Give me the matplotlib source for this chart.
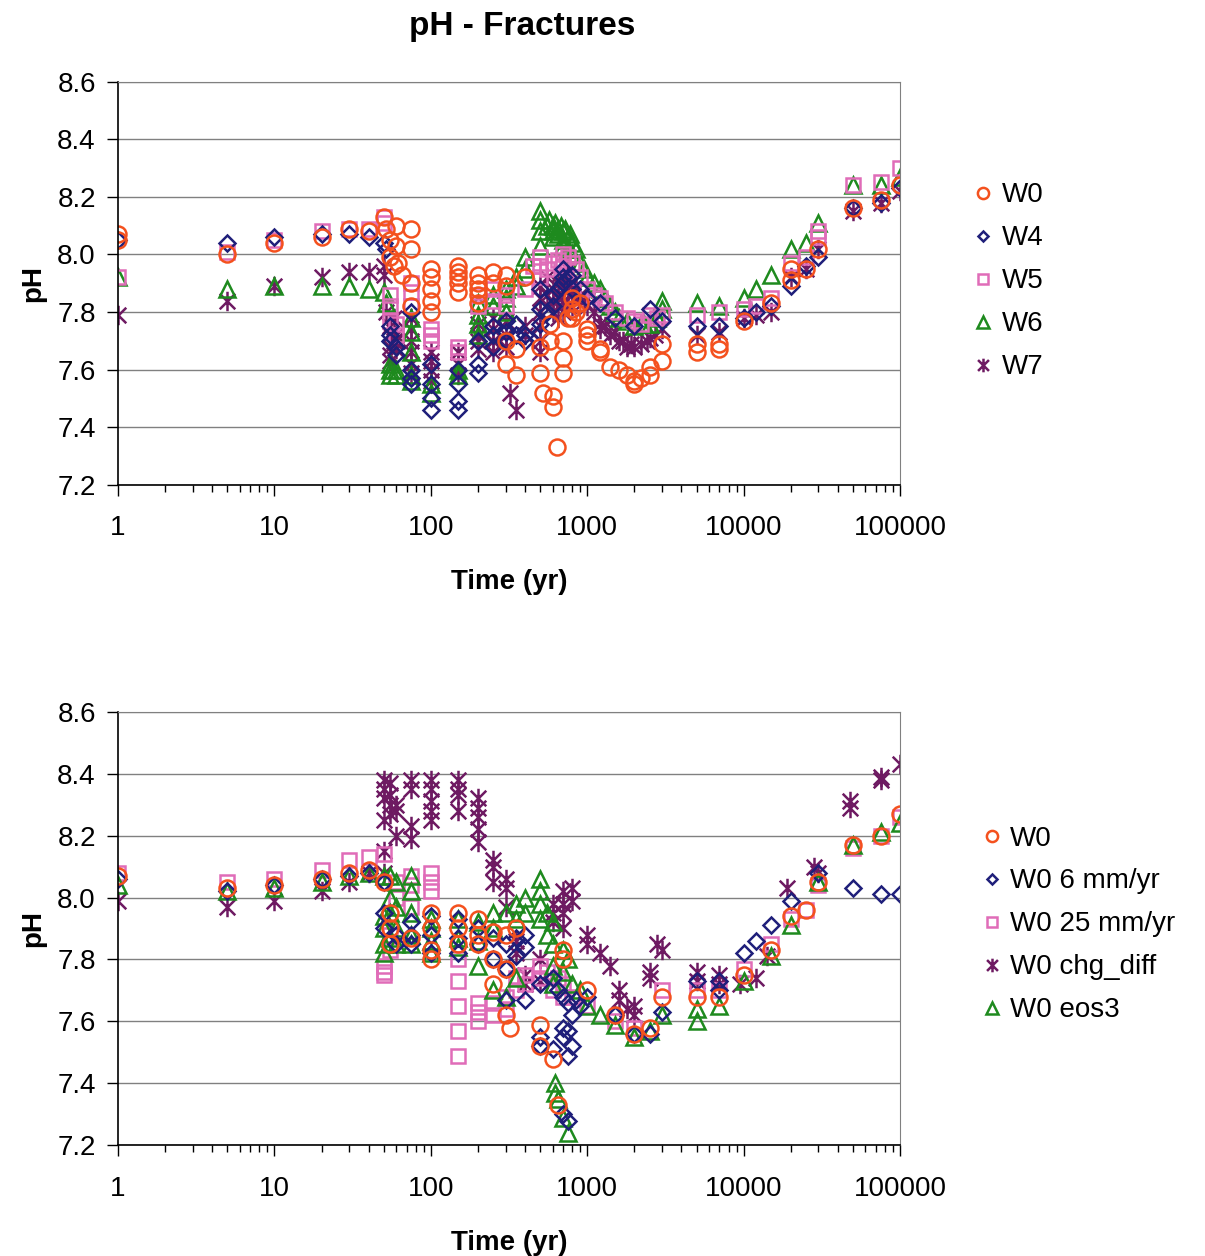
import numpy as np
import matplotlib
matplotlib.use("Agg")
from matplotlib import pyplot as plt
from matplotlib.path import Path
from matplotlib.ticker import LogLocator, FixedLocator, NullFormatter

plt.rcParams['font.family'] = ['Liberation Sans', 'DejaVu Sans']

# ---- data: (time in yr, pH) ----
# top panel: pH - Fractures, infiltration scenarios
top_w0 = [(1, 8.07), (1, 8.05), (5, 8.00), (10, 8.04), (20, 8.06), (30, 8.09), (40, 8.08),
          (50, 8.13), (52, 8.09), (55, 8.05), (55, 7.99), (58, 7.96), (60, 8.10), (60, 8.03),
          (62, 7.97), (65, 7.93), (75, 8.09), (75, 8.02), (75, 7.90), (75, 7.82),
          (100, 7.95), (100, 7.92), (100, 7.88), (100, 7.84), (100, 7.80),
          (150, 7.96), (150, 7.94), (150, 7.92), (150, 7.90), (150, 7.87),
          (200, 7.93), (200, 7.90), (200, 7.88), (200, 7.86), (200, 7.83),
          (250, 7.94), (250, 7.90), (300, 7.93), (300, 7.89), (300, 7.70), (300, 7.62),
          (350, 7.67), (350, 7.58), (400, 7.92), (500, 7.68), (500, 7.59), (520, 7.52),
          (580, 7.76), (580, 7.70), (600, 7.51), (600, 7.47), (640, 7.33),
          (700, 7.70), (700, 7.64), (700, 7.59), (750, 7.78), (800, 7.85), (800, 7.81),
          (800, 7.78), (850, 7.80), (900, 7.83), (1000, 7.74), (1000, 7.72), (1000, 7.70),
          (1200, 7.67), (1200, 7.66), (1400, 7.61), (1600, 7.60), (1800, 7.58),
          (2000, 7.55), (2000, 7.56), (2200, 7.57), (2500, 7.58), (2500, 7.61),
          (3000, 7.69), (3000, 7.63), (5000, 7.69), (5000, 7.66), (7000, 7.69), (7000, 7.67),
          (10000, 7.77), (15000, 7.83), (20000, 7.91), (20000, 7.95), (25000, 7.95),
          (30000, 8.02), (50000, 8.16), (75000, 8.19), (100000, 8.24)]

top_w4 = [(1, 8.05), (5, 8.04), (10, 8.06), (20, 8.07), (30, 8.07), (40, 8.06), (50, 8.04),
          (52, 8.02), (55, 7.75), (55, 7.72), (55, 7.70), (60, 7.68), (60, 7.65),
          (75, 7.80), (75, 7.60), (75, 7.57), (75, 7.55), (100, 7.62), (100, 7.55),
          (100, 7.50), (100, 7.46), (150, 7.60), (150, 7.55), (150, 7.49), (150, 7.46),
          (200, 7.70), (200, 7.62), (200, 7.59), (250, 7.75), (250, 7.72), (250, 7.68),
          (300, 7.77), (300, 7.73), (300, 7.70), (350, 7.76), (350, 7.72), (400, 7.72),
          (400, 7.70), (500, 7.88), (500, 7.81), (500, 7.76), (500, 7.73), (550, 7.80),
          (600, 7.86), (600, 7.82), (650, 7.88), (700, 7.95), (700, 7.92), (700, 7.90),
          (750, 7.92), (800, 7.93), (800, 7.88), (900, 7.88), (1000, 7.85), (1200, 7.83),
          (1500, 7.78), (2000, 7.75), (2500, 7.81), (3000, 7.77), (5000, 7.75),
          (7000, 7.75), (10000, 7.78), (12000, 7.80), (15000, 7.82), (20000, 7.89),
          (25000, 7.96), (30000, 7.99), (50000, 8.16), (75000, 8.18), (100000, 8.23)]

top_w5 = [(1, 7.92), (5, 8.01), (10, 8.05), (20, 8.08), (30, 8.09), (40, 8.09), (50, 8.13),
          (50, 8.11), (55, 7.86), (55, 7.82), (55, 7.77), (60, 7.76), (60, 7.72),
          (75, 7.90), (75, 7.87), (75, 7.82), (100, 7.74), (100, 7.72), (100, 7.70),
          (150, 7.68), (150, 7.66), (200, 7.86), (200, 7.82), (250, 7.88), (250, 7.84),
          (300, 7.86), (300, 7.82), (400, 7.88), (450, 7.96), (500, 7.99), (500, 7.96),
          (500, 7.92), (550, 7.95), (600, 7.97), (650, 7.98), (700, 8.00), (700, 7.96),
          (750, 7.99), (800, 7.97), (850, 7.95), (900, 7.92), (1000, 7.88), (1100, 7.86),
          (1200, 7.85), (1300, 7.83), (1500, 7.80), (1800, 7.78), (2000, 7.77),
          (2200, 7.76), (2500, 7.79), (2800, 7.78), (3000, 7.79), (5000, 7.79),
          (7000, 7.80), (10000, 7.81), (12000, 7.82), (15000, 7.85), (20000, 7.97),
          (25000, 7.99), (30000, 8.06), (30000, 8.08), (50000, 8.24), (75000, 8.25),
          (100000, 8.30)]

top_w6 = [(1, 7.92), (5, 7.88), (10, 7.89), (20, 7.89), (30, 7.89), (40, 7.88), (50, 7.87),
          (52, 7.83), (55, 7.62), (55, 7.60), (55, 7.58), (60, 7.60), (60, 7.58),
          (75, 7.78), (75, 7.73), (75, 7.66), (75, 7.58), (75, 7.56), (100, 7.55),
          (100, 7.52), (150, 7.60), (150, 7.58), (200, 7.83), (200, 7.79), (200, 7.76),
          (200, 7.72), (250, 7.86), (250, 7.82), (300, 7.88), (300, 7.85), (300, 7.80),
          (350, 7.92), (350, 7.89), (400, 7.99), (400, 7.95), (500, 8.15), (500, 8.12),
          (500, 8.08), (500, 8.03), (550, 8.10), (570, 8.12), (600, 8.10), (600, 8.08),
          (600, 8.06), (620, 8.11), (650, 8.09), (650, 8.07), (680, 8.10), (700, 8.08),
          (700, 8.05), (700, 8.03), (720, 8.09), (750, 8.06), (750, 8.02), (780, 8.07),
          (800, 8.04), (800, 8.00), (850, 8.02), (900, 7.97), (950, 7.95), (1000, 7.92),
          (1100, 7.90), (1200, 7.88), (1300, 7.85), (1400, 7.82), (1500, 7.80),
          (1600, 7.78), (1800, 7.77), (2000, 7.75), (2200, 7.76), (2300, 7.76),
          (2500, 7.76), (2800, 7.78), (3000, 7.84), (3000, 7.81), (5000, 7.83),
          (7000, 7.82), (10000, 7.85), (12000, 7.88), (15000, 7.93), (20000, 8.02),
          (25000, 8.04), (30000, 8.11), (50000, 8.24), (75000, 8.24), (100000, 8.27)]

top_w7 = [(1, 7.79), (5, 7.84), (10, 7.89), (20, 7.92), (30, 7.94), (40, 7.94), (50, 7.96),
          (50, 7.93), (52, 7.80), (55, 7.75), (55, 7.72), (55, 7.68), (55, 7.65),
          (55, 7.63), (58, 7.78), (58, 7.70), (60, 7.72), (60, 7.70), (60, 7.67),
          (75, 7.78), (75, 7.74), (75, 7.70), (75, 7.66), (75, 7.62), (75, 7.59),
          (100, 7.66), (100, 7.63), (100, 7.60), (100, 7.56), (150, 7.66), (150, 7.62),
          (150, 7.58), (200, 7.76), (200, 7.72), (200, 7.70), (200, 7.67), (250, 7.78),
          (250, 7.74), (250, 7.70), (250, 7.66), (300, 7.77), (300, 7.72), (300, 7.68),
          (320, 7.52), (350, 7.46), (400, 7.75), (400, 7.72), (500, 7.89), (500, 7.85),
          (500, 7.80), (500, 7.75), (500, 7.70), (500, 7.66), (550, 7.92), (550, 7.86),
          (600, 7.88), (600, 7.84), (600, 7.80), (650, 7.90), (650, 7.85), (650, 7.78),
          (700, 7.92), (700, 7.88), (700, 7.84), (700, 7.80), (750, 7.95), (750, 7.88),
          (750, 7.82), (800, 7.90), (800, 7.86), (800, 7.82), (850, 7.88), (900, 7.86),
          (950, 7.84), (1000, 7.85), (1000, 7.82), (1100, 7.80), (1200, 7.76),
          (1200, 7.74), (1300, 7.75), (1400, 7.72), (1500, 7.73), (1600, 7.70),
          (1700, 7.70), (1800, 7.68), (1900, 7.69), (2000, 7.68), (2200, 7.69),
          (2400, 7.70), (2500, 7.71), (2700, 7.72), (3000, 7.74), (5000, 7.72),
          (7000, 7.73), (10000, 7.78), (12000, 7.79), (15000, 7.80), (20000, 7.92),
          (25000, 7.95), (30000, 8.02), (50000, 8.15), (75000, 8.18), (100000, 8.22)]

# bottom panel: W0 sensitivity cases
bot_w0 = [(1, 8.07), (5, 8.03), (10, 8.04), (20, 8.06), (30, 8.08), (40, 8.09), (50, 8.05),
          (55, 7.95), (55, 7.90), (55, 7.85), (75, 7.87), (100, 7.95), (100, 7.90),
          (100, 7.83), (100, 7.80), (150, 7.95), (150, 7.90), (150, 7.85), (200, 7.93),
          (200, 7.88), (200, 7.85), (250, 7.89), (250, 7.80), (250, 7.72), (300, 7.88),
          (300, 7.77), (300, 7.62), (320, 7.58), (350, 7.90), (500, 7.59), (500, 7.52),
          (600, 7.48), (650, 7.33), (700, 7.83), (700, 7.80), (1000, 7.70), (1500, 7.62),
          (2000, 7.56), (2500, 7.58), (3000, 7.68), (5000, 7.68), (7000, 7.68),
          (10000, 7.75), (15000, 7.83), (20000, 7.94), (25000, 7.96), (30000, 8.05),
          (50000, 8.17), (75000, 8.20), (100000, 8.27)]

bot_w0_6mm = [(1, 8.06), (5, 8.02), (10, 8.04), (20, 8.06), (30, 8.07), (40, 8.08),
              (50, 8.05), (50, 7.95), (50, 7.90), (60, 7.88), (60, 7.85), (75, 7.92),
              (75, 7.88), (75, 7.85), (100, 7.94), (100, 7.88), (100, 7.82), (150, 7.93),
              (150, 7.87), (150, 7.82), (200, 7.90), (200, 7.85), (250, 7.87), (250, 7.80),
              (300, 7.85), (300, 7.77), (300, 7.67), (350, 7.87), (350, 7.81), (400, 7.88),
              (400, 7.84), (400, 7.67), (500, 7.72), (500, 7.55), (500, 7.52), (600, 7.51),
              (600, 7.74), (650, 7.70), (700, 7.68), (700, 7.58), (700, 7.55), (700, 7.30),
              (750, 7.66), (750, 7.57), (750, 7.49), (750, 7.28), (800, 7.62), (800, 7.52),
              (850, 7.67), (900, 7.65), (1000, 7.68), (1500, 7.62), (2000, 7.56),
              (2500, 7.56), (3000, 7.63), (5000, 7.73), (7000, 7.73), (7000, 7.70),
              (10000, 7.82), (12000, 7.86), (15000, 7.91), (20000, 7.99), (30000, 8.08),
              (50000, 8.03), (75000, 8.01), (100000, 8.01)]

bot_w0_25mm = [(1, 8.08), (5, 8.05), (10, 8.06), (20, 8.09), (30, 8.12), (40, 8.13),
               (50, 8.14), (50, 7.78), (50, 7.76), (50, 7.75), (55, 7.88), (55, 7.83),
               (60, 8.05), (60, 8.00), (75, 8.07), (75, 8.04), (75, 7.97), (100, 8.08),
               (100, 8.05), (100, 8.02), (150, 7.80), (150, 7.73), (150, 7.65),
               (150, 7.57), (150, 7.49), (200, 7.66), (200, 7.63), (200, 7.60),
               (250, 7.66), (250, 7.62), (300, 7.68), (300, 7.64), (350, 7.74),
               (350, 7.70), (400, 7.75), (400, 7.72), (500, 7.78), (500, 7.74), (550, 7.76),
               (600, 7.70), (650, 7.74), (700, 7.72), (700, 7.68), (800, 7.68),
               (1000, 7.65), (1500, 7.60), (2000, 7.58), (3000, 7.70), (5000, 7.70),
               (7000, 7.70), (10000, 7.77), (15000, 7.85), (20000, 7.93), (25000, 7.96),
               (30000, 8.04), (50000, 8.16), (75000, 8.20), (100000, 8.26)]

bot_w0_chg = [(1, 7.99), (5, 7.97), (10, 7.99), (20, 8.02), (30, 8.05), (40, 8.08),
              (50, 8.38), (50, 8.35), (50, 8.32), (50, 8.25), (50, 8.15), (50, 8.08),
              (55, 8.37), (55, 8.33), (55, 8.30), (55, 8.27), (60, 8.30), (60, 8.28),
              (60, 8.20), (75, 8.38), (75, 8.35), (75, 8.23), (75, 8.19), (100, 8.38),
              (100, 8.35), (100, 8.31), (100, 8.28), (100, 8.25), (150, 8.38), (150, 8.35),
              (150, 8.33), (150, 8.28), (200, 8.32), (200, 8.29), (200, 8.26), (200, 8.22),
              (200, 8.18), (250, 8.12), (250, 8.10), (250, 8.05), (300, 8.06), (300, 8.03),
              (300, 7.97), (350, 7.86), (350, 7.82), (400, 7.75), (400, 7.72), (500, 7.80),
              (500, 7.73), (600, 7.98), (600, 7.95), (600, 7.92), (700, 8.02), (700, 7.98),
              (700, 7.95), (700, 7.90), (800, 8.03), (800, 7.99), (1000, 7.88),
              (1000, 7.85), (1200, 7.82), (1400, 7.78), (1600, 7.70), (1600, 7.67),
              (1800, 7.64), (2000, 7.62), (2000, 7.65), (2500, 7.76), (2500, 7.74),
              (2800, 7.85), (3000, 7.83), (5000, 7.76), (5000, 7.73), (7000, 7.75),
              (7000, 7.72), (9500, 7.72), (12000, 7.74), (14000, 7.81), (19000, 8.03),
              (28000, 8.10), (30000, 8.08), (48000, 8.31), (48000, 8.29), (75000, 8.39),
              (75000, 8.38), (100000, 8.43)]

bot_w0_eos3 = [(1, 8.04), (5, 8.02), (10, 8.03), (20, 8.05), (30, 8.07), (40, 8.08),
               (50, 8.07), (50, 7.94), (50, 7.90), (50, 7.85), (50, 7.82), (55, 8.07),
               (55, 8.00), (55, 7.95), (55, 7.87), (60, 8.05), (60, 7.97), (60, 7.90),
               (60, 7.85), (75, 8.07), (75, 8.02), (75, 7.95), (75, 7.88), (75, 7.85),
               (100, 7.93), (100, 7.90), (100, 7.86), (100, 7.82), (150, 7.93), (150, 7.87),
               (150, 7.84), (200, 7.92), (200, 7.86), (200, 7.78), (250, 7.95), (250, 7.90),
               (250, 7.70), (300, 7.95), (300, 7.68), (350, 7.98), (350, 7.93), (350, 7.74),
               (400, 8.00), (400, 7.95), (500, 8.06), (500, 8.02), (500, 7.98), (500, 7.93),
               (550, 7.95), (550, 7.88), (600, 7.92), (600, 7.85), (600, 7.78), (600, 7.72),
               (620, 7.40), (620, 7.37), (650, 7.35), (700, 7.83), (700, 7.76), (700, 7.29),
               (750, 7.80), (750, 7.24), (800, 7.72), (900, 7.70), (1000, 7.65),
               (1200, 7.62), (1500, 7.59), (2000, 7.55), (2500, 7.57), (3000, 7.62),
               (5000, 7.64), (5000, 7.60), (7000, 7.65), (10000, 7.73), (15000, 7.81),
               (20000, 7.91), (30000, 8.05), (50000, 8.17), (75000, 8.21), (100000, 8.24)]

top_labels = ['W0', 'W4', 'W5', 'W6', 'W7']
bot_labels = ['W0', 'W0 6 mm/yr', 'W0 25 mm/yr', 'W0 chg_diff', 'W0 eos3']
y_ticks = [7.2, 7.4, 7.6, 7.8, 8.0, 8.2, 8.4, 8.6]
x_ticks = [1, 10, 100, 1000, 10000, 100000]

# ---- styles ----
c_orange = '#f4511e'
c_navy = '#1f1f7a'
c_pink = '#e06cb8'
c_green = '#1e8a1e'
c_purple = '#6e1a62'

# excel-like asterisk: an x with a vertical bar
star_path = Path([(-1, -1), (1, 1), (-1, 1), (1, -1), (0, -1.25), (0, 1.25)],
                 [Path.MOVETO, Path.LINETO, Path.MOVETO, Path.LINETO,
                  Path.MOVETO, Path.LINETO])

top_styles = [('o', c_orange, 11.5), ('D', c_navy, 8), ('s', c_pink, 10.5),
              ('^', c_green, 12), (star_path, c_purple, 14)]
bot_styles = [('o', c_orange, 11.5), ('D', c_navy, 8), ('s', c_pink, 10.5),
              (star_path, c_purple, 14), ('^', c_green, 12)]


def draw_panel(ax, series, labels, styles, order):
    handles = {}
    for i in order:
        t, ph = zip(*series[i])
        mk, col, ms = styles[i]
        l, = ax.plot(t, ph, linestyle='none', marker=mk, markersize=ms,
                     markerfacecolor='none', markeredgecolor=col,
                     markeredgewidth=1.8, label=labels[i])
        handles[i] = l
    ax.set_xscale('log')
    ax.set_xlim(1, 100000)
    ax.set_ylim(7.2, 8.6)
    ax.set_yticks(y_ticks)
    ax.set_yticklabels(['%.1f' % v for v in y_ticks])
    ax.xaxis.set_major_locator(FixedLocator(x_ticks))
    ax.set_xticklabels([str(v) for v in x_ticks])
    ax.xaxis.set_minor_locator(LogLocator(base=10, subs=np.arange(2, 10)))
    ax.xaxis.set_minor_formatter(NullFormatter())
    ax.grid(axis='y', color='#808080', linewidth=1)
    ax.set_axisbelow(True)
    ax.tick_params(axis='y', labelsize=20, length=8, width=1, pad=8)
    ax.tick_params(axis='x', which='major', labelsize=20, length=8, width=1, pad=14)
    ax.tick_params(axis='x', which='minor', length=5, width=1)
    for s in ['top', 'right']:
        ax.spines[s].set_color('#808080')
    for s in ['left', 'bottom']:
        ax.spines[s].set_color('black')
        ax.spines[s].set_linewidth(1.2)
    ax.set_xlabel('Time (yr)', fontsize=20, fontweight='bold', labelpad=20)
    ax.set_ylabel('pH', fontsize=20, fontweight='bold', labelpad=8)
    return [handles[i] for i in range(len(labels))]


fig = plt.figure(figsize=(12.05, 12.56), dpi=100)
ax1 = fig.add_axes([0.098, 0.614, 0.649, 0.321])
ax2 = fig.add_axes([0.098, 0.088, 0.649, 0.3455])

top_series = [top_w0, top_w4, top_w5, top_w6, top_w7]
bot_series = [bot_w0, bot_w0_6mm, bot_w0_25mm, bot_w0_chg, bot_w0_eos3]

h1 = draw_panel(ax1, top_series, top_labels, top_styles, [4, 3, 2, 1, 0])
h2 = draw_panel(ax2, bot_series, bot_labels, bot_styles, [3, 2, 4, 1, 0])

leg_kw = dict(frameon=False, fontsize=20, handlelength=0.7, handletextpad=0.3,
              labelspacing=0.61, borderaxespad=0, borderpad=0, markerscale=0.7,
              bbox_transform=fig.transFigure)
ax1.legend(h1, top_labels, loc='center left', bbox_to_anchor=(0.808, 0.776), **leg_kw)
ax2.legend(h2, bot_labels, loc='center left', bbox_to_anchor=(0.815, 0.264), **leg_kw)

fig.text(0.433, 0.979, 'pH - Fractures', ha='center', va='center',
         fontsize=24, fontweight='bold')

fig.savefig('out.png', dpi=100)
